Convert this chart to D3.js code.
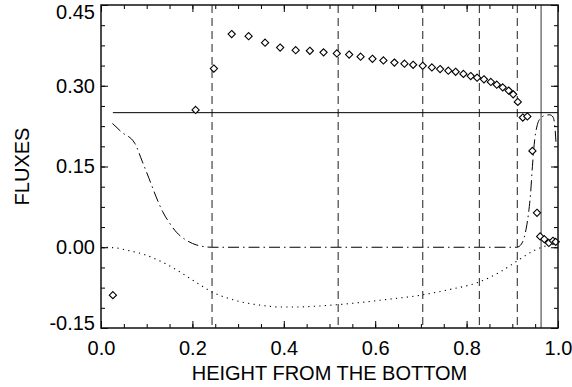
<!DOCTYPE html>
<html>
<head>
<meta charset="utf-8">
<script src="https://cdn.jsdelivr.net/npm/d3@7"></script>
<style>
  body { margin: 0; background: #fff; }
  svg { display: block; font-family: "Liberation Sans", Arial, sans-serif; }
</style>
</head>
<body>
<div id="chart"></div>
<script>
// diamonds (height, flux)
const diamondX = [0.026, 0.207, 0.247, 0.286, 0.323, 0.359, 0.392, 0.426, 0.457, 0.487, 0.516, 0.543,
  0.568, 0.594, 0.618, 0.642, 0.664, 0.683, 0.704, 0.724, 0.742, 0.760, 0.776, 0.793, 0.809, 0.823,
  0.838, 0.853, 0.866, 0.879, 0.892, 0.902, 0.912, 0.923, 0.933, 0.944, 0.954, 0.961, 0.970, 0.980,
  0.989, 0.995];
const diamondY = [-0.089, 0.255, 0.332, 0.396, 0.392, 0.380, 0.371, 0.366, 0.365, 0.362, 0.360, 0.358,
  0.354, 0.350, 0.347, 0.343, 0.341, 0.339, 0.337, 0.334, 0.331, 0.328, 0.326, 0.322, 0.318, 0.315,
  0.312, 0.307, 0.302, 0.297, 0.291, 0.284, 0.270, 0.241, 0.243, 0.179, 0.064, 0.020, 0.015, 0.008,
  0.012, 0.010];

// dash-dot curve
const dashDotX = [0.025, 0.045, 0.074, 0.090, 0.105, 0.120, 0.135, 0.150, 0.165, 0.185, 0.210, 0.243,
  0.910, 0.920, 0.928, 0.935, 0.940, 0.944, 0.949, 0.955, 0.962, 0.972, 0.982, 0.989, 0.993, 0.996];
const dashDotY = [0.230, 0.214, 0.193, 0.160, 0.128, 0.095, 0.066, 0.045, 0.028, 0.014, 0.004, 0.000,
  0.000, 0.006, 0.025, 0.060, 0.100, 0.150, 0.200, 0.228, 0.240, 0.245, 0.246, 0.242, 0.225, 0.190];

// dotted curve
const dottedX = [0.000, 0.030, 0.060, 0.096, 0.133, 0.169, 0.206, 0.243, 0.279, 0.315, 0.352, 0.390,
  0.425, 0.480, 0.552, 0.625, 0.700, 0.760, 0.829, 0.875, 0.915, 0.950, 0.975];
const dottedY = [0.000, -0.001, -0.006, -0.014, -0.027, -0.044, -0.064, -0.083, -0.095, -0.103, -0.108, -0.111,
  -0.111, -0.109, -0.104, -0.097, -0.089, -0.079, -0.064, -0.045, -0.023, -0.005, 0.003];

// reference lines
const dashedLinesX = [0.243, 0.519, 0.704, 0.828, 0.911];
const solidLineX = 0.963;
const levelY = 0.25;
const levelStartX = 0.026;

const xTicks = [0, 0.2, 0.4, 0.6, 0.8, 1.0];
const yTicks = [-0.15, 0, 0.15, 0.30, 0.45];
const xMinor = d3.range(0, 1.0001, 0.05);
const yMinor = d3.range(-0.15, 0.4501, 0.0375);

const width = 572, height = 387;
const margin = { top: 5, right: 14, bottom: 59, left: 101 };

const svg = d3.select('#chart').append('svg')
  .attr('width', width)
  .attr('height', height);

const x = d3.scaleLinear().domain([0, 1]).range([margin.left, width - margin.right]);
const y = d3.scaleLinear().domain([-0.15, 0.45]).range([height - margin.bottom, margin.top]);

const fontSize = 20;

// reference lines
svg.selectAll('.vdash').data(dashedLinesX).enter().append('line')
  .attr('x1', d => x(d)).attr('x2', d => x(d))
  .attr('y1', y(0.45)).attr('y2', y(-0.15))
  .attr('stroke', '#444').attr('stroke-width', 1.2)
  .attr('stroke-dasharray', '8,5');

svg.append('line')
  .attr('x1', x(solidLineX)).attr('x2', x(solidLineX))
  .attr('y1', y(0.45)).attr('y2', y(-0.15))
  .attr('stroke', '#555').attr('stroke-width', 1.2);

svg.append('line')
  .attr('x1', x(levelStartX)).attr('x2', x(1))
  .attr('y1', y(levelY)).attr('y2', y(levelY))
  .attr('stroke', '#000').attr('stroke-width', 1);

// monotone so the flat part stays flat
const line = d3.line().x(d => x(d[0])).y(d => y(d[1])).curve(d3.curveMonotoneX);

svg.append('path')
  .datum(d3.zip(dashDotX, dashDotY))
  .attr('d', line)
  .attr('fill', 'none').attr('stroke', '#000').attr('stroke-width', 1)
  .attr('stroke-dasharray', '11,4,1.5,4');

svg.append('path')
  .datum(d3.zip(dottedX, dottedY))
  .attr('d', line)
  .attr('fill', 'none').attr('stroke', '#000').attr('stroke-width', 1.1)
  .attr('stroke-dasharray', '1.2,4.3');

// diamonds
const r = 3.6;
svg.selectAll('.dia').data(d3.zip(diamondX, diamondY)).enter().append('path')
  .attr('transform', d => `translate(${x(d[0])},${y(d[1])})`)
  .attr('d', `M0,${-r}L${r},0L0,${r}L${-r},0Z`)
  .attr('fill', '#fff').attr('stroke', '#000').attr('stroke-width', 1.1);

// axes: minor + major, ticks inward on all four sides
const plotW = width - margin.left - margin.right;
const plotH = height - margin.top - margin.bottom;
const bottom = height - margin.bottom;

function styleAxis(g) {
  g.select('.domain').remove();
  g.selectAll('line').attr('stroke', '#000').attr('stroke-width', 1);
}

svg.append('g').attr('transform', `translate(0,${bottom})`)
  .call(d3.axisBottom(x).tickValues(xMinor).tickSize(-4).tickFormat(''))
  .call(styleAxis);
svg.append('g').attr('transform', `translate(0,${margin.top})`)
  .call(d3.axisTop(x).tickValues(xMinor).tickSize(-4).tickFormat(''))
  .call(styleAxis);
svg.append('g').attr('transform', `translate(${margin.left},0)`)
  .call(d3.axisLeft(y).tickValues(yMinor).tickSize(-4).tickFormat(''))
  .call(styleAxis);
svg.append('g').attr('transform', `translate(${width - margin.right},0)`)
  .call(d3.axisRight(y).tickValues(yMinor).tickSize(-4).tickFormat(''))
  .call(styleAxis);

// plain hyphen for negatives, like the original
const fmt2 = v => d3.format('.2f')(v).replace('\u2212', '-');

const xAxis = svg.append('g').attr('transform', `translate(0,${bottom})`)
  .call(d3.axisBottom(x).tickValues(xTicks).tickSize(-7).tickPadding(13).tickFormat(d3.format('.1f')))
  .call(styleAxis);
svg.append('g').attr('transform', `translate(0,${margin.top})`)
  .call(d3.axisTop(x).tickValues(xTicks).tickSize(-7).tickFormat(''))
  .call(styleAxis);
const yAxis = svg.append('g').attr('transform', `translate(${margin.left},0)`)
  .call(d3.axisLeft(y).tickValues(yTicks).tickSize(-7).tickPadding(6).tickFormat(fmt2))
  .call(styleAxis);
svg.append('g').attr('transform', `translate(${width - margin.right},0)`)
  .call(d3.axisRight(y).tickValues(yTicks).tickSize(-7).tickFormat(''))
  .call(styleAxis);

[xAxis, yAxis].forEach(g => g.selectAll('text')
  .attr('font-size', fontSize).attr('font-family', '"Liberation Sans", Arial, sans-serif').attr('fill', '#000'));

// keep the end labels inside the frame
yAxis.selectAll('.tick').each(function(d) {
  const t = d3.select(this).select('text');
  if (d === 0.45) t.attr('y', 7);
  if (d === -0.15) t.attr('y', -5);
});

// frame
svg.append('rect')
  .attr('x', margin.left).attr('y', margin.top)
  .attr('width', plotW).attr('height', plotH)
  .attr('fill', 'none').attr('stroke', '#111').attr('stroke-width', 1.5);

// titles
svg.append('text')
  .attr('x', margin.left + plotW / 2).attr('y', 380)
  .attr('text-anchor', 'middle').attr('font-size', fontSize)
  .text('HEIGHT FROM THE BOTTOM');

svg.append('text')
  .attr('transform', `translate(29,${margin.top + plotH / 2}) rotate(-90)`)
  .attr('text-anchor', 'middle').attr('font-size', fontSize)
  .text('FLUXES');
</script>
</body>
</html>
